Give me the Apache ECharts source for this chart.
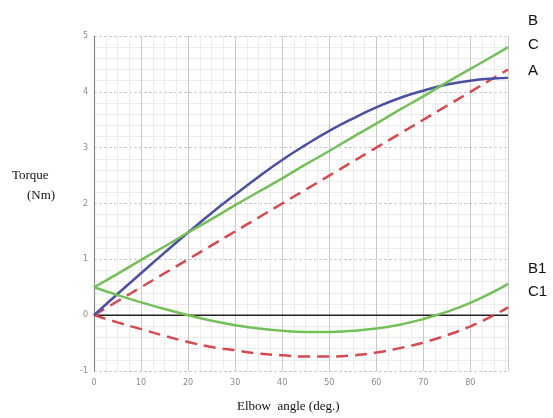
<!DOCTYPE html>
<html>
<head>
<meta charset="utf-8">
<script src="https://cdn.jsdelivr.net/npm/echarts@6/dist/echarts.min.js"></script>
<style>html,body{margin:0;padding:0;background:#fff}#c{width:553px;height:418px}</style>
</head>
<body>
<div id="c"></div>
<script>
var angles = [0, 5, 10, 15, 20, 25, 30, 35, 40, 45, 50, 55, 60, 65, 70, 75, 80, 85, 88];
var torqueBlue = [0, 0.38, 0.75, 1.12, 1.48, 1.83, 2.16, 2.48, 2.78, 3.05, 3.30, 3.52, 3.72, 3.89, 4.02, 4.13, 4.20, 4.24, 4.25];
var torqueGreenUpper = [0.5, 0.74, 0.99, 1.23, 1.48, 1.72, 1.97, 2.21, 2.45, 2.70, 2.94, 3.19, 3.43, 3.68, 3.92, 4.17, 4.41, 4.65, 4.8];
var torqueRedUpper = [0, 0.25, 0.5, 0.75, 1.0, 1.25, 1.5, 1.75, 2.0, 2.25, 2.5, 2.75, 3.0, 3.25, 3.5, 3.75, 4.0, 4.25, 4.4];
var torqueGreenLower = [0.5, 0.36, 0.23, 0.11, 0.0, -0.1, -0.18, -0.24, -0.28, -0.30, -0.30, -0.28, -0.24, -0.17, -0.07, 0.06, 0.22, 0.42, 0.56];
var torqueRedLower = [0, -0.13, -0.25, -0.37, -0.48, -0.57, -0.63, -0.69, -0.72, -0.74, -0.74, -0.72, -0.67, -0.59, -0.49, -0.36, -0.2, 0.0, 0.14];
var zeroLine = [[0, 0], [88, 0]];
var xTicks = [0, 10, 20, 30, 40, 50, 60, 70, 80];
var yTicks = [-1, 0, 1, 2, 3, 4, 5];
var labelsTop = ['B', 'C', 'A'];
var labelsBottom = ['B1', 'C1'];

function pairs(ys) { return angles.map(function (a, i) { return [a, ys[i]]; }); }

var green = '#72c158', blue = '#4b4fa6', red = '#d9484d';
var chart = echarts.init(document.getElementById('c'), null, {renderer: 'canvas'});
function lineSeries(data, color, dashed) {
  return {
    type: 'line', data: pairs(data), smooth: true, symbol: 'none',
    lineStyle: {color: color, width: 2.5, type: dashed ? [12, 7] : 'solid'},
    z: dashed ? 3 : 4
  };
}
chart.setOption({
  animation: false,
  grid: {left: 94, right: 45, top: 36, bottom: 47},
  xAxis: {
    type: 'value', min: 0, max: 88, interval: 10,
    axisLine: {show: true, lineStyle: {color: '#d0d0d0'}},
    axisTick: {show: false},
    axisLabel: {color: '#8a8a8a', fontSize: 8, margin: 8, fontFamily: 'DejaVu Sans',
      formatter: function (v) { return xTicks.indexOf(v) >= 0 ? String(v) : ''; }},
    splitLine: {show: true, lineStyle: {color: '#c9c9c9', width: 1}},
    minorTick: {show: false, splitNumber: 4},
    minorSplitLine: {show: true, lineStyle: {color: '#ececec', width: 1}}
  },
  yAxis: {
    type: 'value', min: -1, max: 5, interval: 1,
    axisLine: {show: true, lineStyle: {color: '#8a8a8a', width: 1.2}},
    axisTick: {show: false},
    axisLabel: {color: '#8a8a8a', fontSize: 8, margin: 6, fontFamily: 'DejaVu Sans',
      formatter: function (v) { return yTicks.indexOf(v) >= 0 ? String(v) : ''; }},
    splitLine: {show: true, lineStyle: {color: '#c9c9c9', width: 1, type: [3, 2]}},
    minorTick: {show: false, splitNumber: 5},
    minorSplitLine: {show: true, lineStyle: {color: '#ececec', width: 1}}
  },
  series: [
    {type: 'line', data: zeroLine, symbol: 'none', lineStyle: {color: '#222', width: 1.5}, z: 2},
    lineSeries(torqueRedUpper, red, true),
    lineSeries(torqueRedLower, red, true),
    lineSeries(torqueBlue, blue, false),
    lineSeries(torqueGreenUpper, green, false),
    lineSeries(torqueGreenLower, green, false)
  ],
  graphic: [
    {type: 'text', left: 12, top: 169, style: {text: 'Torque', font: '13px "Liberation Serif", serif', fill: '#111'}},
    {type: 'text', left: 27, top: 189, style: {text: '(Nm)', font: '13px "Liberation Serif", serif', fill: '#111'}},
    {type: 'text', left: 237, top: 400, style: {text: 'Elbow  angle (deg.)', font: '13px "Liberation Serif", serif', fill: '#111'}},
    {type: 'text', left: 528, top: 13, style: {text: labelsTop[0], font: '15px "Liberation Sans", sans-serif', fill: '#111'}},
    {type: 'text', left: 528, top: 37, style: {text: labelsTop[1], font: '15px "Liberation Sans", sans-serif', fill: '#111'}},
    {type: 'text', left: 528, top: 63, style: {text: labelsTop[2], font: '15px "Liberation Sans", sans-serif', fill: '#111'}},
    {type: 'text', left: 528, top: 261, style: {text: labelsBottom[0], font: '15px "Liberation Sans", sans-serif', fill: '#111'}},
    {type: 'text', left: 528, top: 284, style: {text: labelsBottom[1], font: '15px "Liberation Sans", sans-serif', fill: '#111'}}
  ]
});
</script>
</body>
</html>
